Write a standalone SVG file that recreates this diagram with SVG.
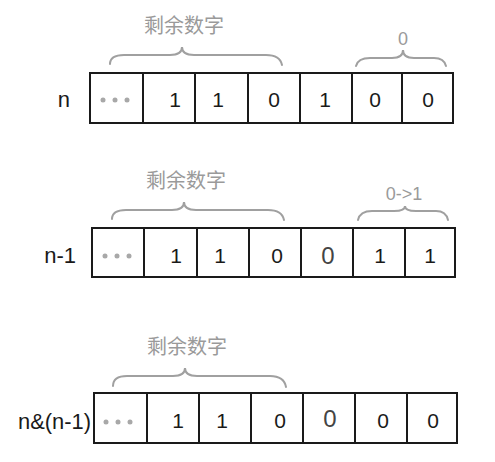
<svg xmlns="http://www.w3.org/2000/svg" width="495" height="462" viewBox="0 0 495 462">
<style>
.cell{fill:#fff;stroke:#1a1a1a;stroke-width:2}
.d{font-family:"Liberation Sans","Noto Sans",sans-serif;font-size:21px;fill:#1a1a1a;text-anchor:middle}
.dg{font-family:"Liberation Sans","Noto Sans",sans-serif;font-size:24px;fill:#444;text-anchor:middle}
.lbl{font-family:"Liberation Sans","Noto Sans",sans-serif;font-size:22px;fill:#1a1a1a;text-anchor:end}
.cn{font-family:"Liberation Sans","Noto Sans CJK SC",sans-serif;font-size:20px;fill:#9a9a9a;text-anchor:middle}
.gt{font-family:"Liberation Sans","Noto Sans",sans-serif;font-size:18px;fill:#9a9a9a;text-anchor:middle}
.brace{fill:none;stroke:#a0a0a0;stroke-width:2;stroke-linecap:round}
.dot{fill:#a8a8a8}
</style>
<rect width="495" height="462" fill="#fff"/>

<g id="row-n">
  <text class="lbl" x="70" y="107">n</text>
  <g id="n-c1"><rect class="cell" x="90" y="73" width="53" height="50"/><circle class="dot" cx="103" cy="100" r="2.5"/><circle class="dot" cx="115" cy="100" r="2.5"/><circle class="dot" cx="127" cy="100" r="2.5"/></g>
  <g id="n-c2"><rect class="cell" x="143" y="73" width="52" height="50"/><text class="d" x="175" y="107">1</text></g>
  <g id="n-c3"><rect class="cell" x="195" y="73" width="53" height="50"/><text class="d" x="218" y="107">1</text></g>
  <g id="n-c4"><rect class="cell" x="248" y="73" width="52" height="50"/><text class="d" x="274" y="107">0</text></g>
  <g id="n-c5"><rect class="cell" x="300" y="73" width="52" height="50"/><text class="d" x="325" y="107">1</text></g>
  <g id="n-c6"><rect class="cell" x="352" y="73" width="50" height="50"/><text class="d" x="375" y="107">0</text></g>
  <g id="n-c7"><rect class="cell" x="402" y="73" width="51" height="50"/><text class="d" x="428" y="107">0</text></g>
  <text class="cn" x="184" y="33">剩余数字</text>
  <text class="gt" x="403" y="45">0</text>
</g>

<g id="row-n-1">
  <text class="lbl" x="76" y="263">n-1</text>
  <g id="m-c1"><rect class="cell" x="92" y="228" width="52" height="49"/><circle class="dot" cx="105" cy="256" r="2.5"/><circle class="dot" cx="117" cy="256" r="2.5"/><circle class="dot" cx="129" cy="256" r="2.5"/></g>
  <g id="m-c2"><rect class="cell" x="144" y="228" width="53" height="49"/><text class="d" x="176" y="263">1</text></g>
  <g id="m-c3"><rect class="cell" x="197" y="228" width="52" height="49"/><text class="d" x="220" y="263">1</text></g>
  <g id="m-c4"><rect class="cell" x="249" y="228" width="52" height="49"/><text class="d" x="277" y="263">0</text></g>
  <g id="m-c5"><rect class="cell" x="301" y="228" width="52" height="49"/><text class="dg" x="328" y="264">0</text></g>
  <g id="m-c6"><rect class="cell" x="353" y="228" width="52" height="49"/><text class="d" x="380" y="263">1</text></g>
  <g id="m-c7"><rect class="cell" x="405" y="228" width="50" height="49"/><text class="d" x="430" y="263">1</text></g>
  <text class="cn" x="186" y="188">剩余数字</text>
  <text class="gt" x="404" y="200">0-&gt;1</text>
</g>

<g id="row-and">
  <text class="lbl" x="91" y="429" textLength="73" lengthAdjust="spacingAndGlyphs">n&amp;(n-1)</text>
  <g id="a-c1"><rect class="cell" x="94" y="393" width="53" height="50"/><circle class="dot" cx="106" cy="422" r="2.5"/><circle class="dot" cx="118" cy="422" r="2.5"/><circle class="dot" cx="130" cy="422" r="2.5"/></g>
  <g id="a-c2"><rect class="cell" x="147" y="393" width="52" height="50"/><text class="d" x="178" y="428">1</text></g>
  <g id="a-c3"><rect class="cell" x="199" y="393" width="52" height="50"/><text class="d" x="222" y="428">1</text></g>
  <g id="a-c4"><rect class="cell" x="251" y="393" width="52" height="50"/><text class="d" x="280" y="428">0</text></g>
  <g id="a-c5"><rect class="cell" x="303" y="393" width="52" height="50"/><text class="dg" x="330" y="427">0</text></g>
  <g id="a-c6"><rect class="cell" x="355" y="393" width="52" height="50"/><text class="d" x="383" y="428">0</text></g>
  <g id="a-c7"><rect class="cell" x="407" y="393" width="50" height="50"/><text class="d" x="433" y="428">0</text></g>
  <text class="cn" x="187" y="354">剩余数字</text>
</g>

<g id="connectors">
  <path class="brace" d="M110,64 Q110,55 124,55 L170,55 Q182,55 182,47 Q182,55 194,55 L266,55 Q280,55 282,65"/>
  <path class="brace" d="M356,66 Q358,58 370,58 L392,58 Q403,58 403,50 Q403,58 414,58 L434,58 Q444,58 446,66"/>
  <path class="brace" d="M112,219 Q112,210 126,210 L172,210 Q184,210 184,202 Q184,210 196,210 L268,210 Q282,210 284,220"/>
  <path class="brace" d="M358,220 Q360,211 372,211 L394,211 Q405,211 405,206 Q405,211 416,211 L436,211 Q446,211 448,220"/>
  <path class="brace" d="M113,386 Q113,376 127,376 L173,376 Q185,376 185,368 Q185,376 197,376 L270,376 Q284,376 286,387"/>
</g>
</svg>
